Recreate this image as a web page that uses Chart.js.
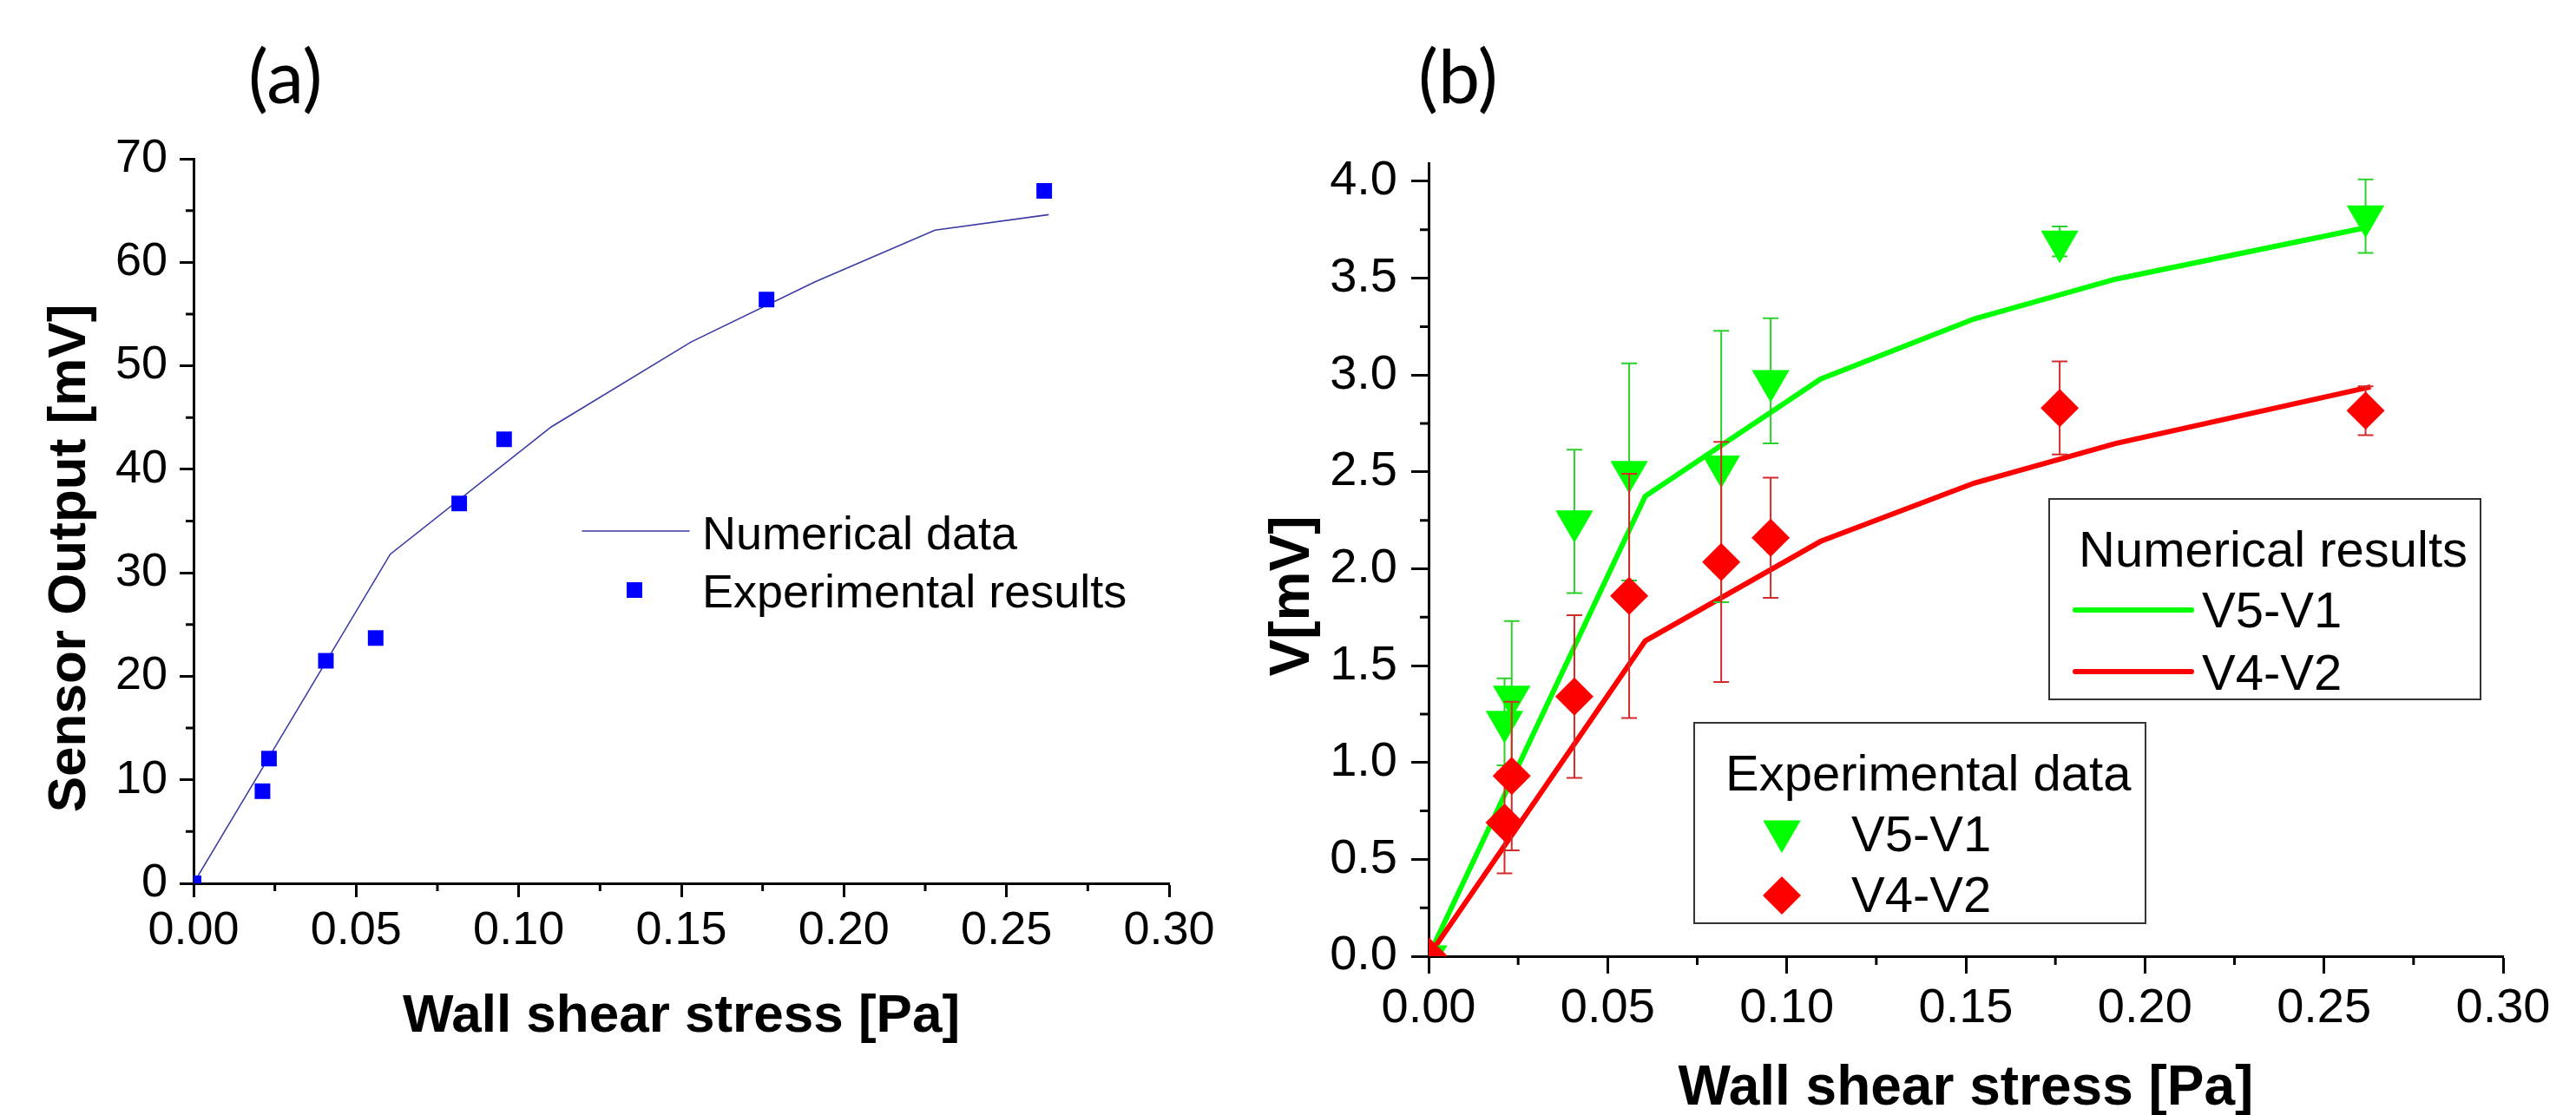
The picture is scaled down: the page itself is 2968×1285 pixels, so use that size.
<!DOCTYPE html>
<html>
<head>
<meta charset="utf-8">
<script src="https://cdn.jsdelivr.net/npm/chart.js@4.4.1/dist/chart.umd.min.js"></script>
<style>
html, body { margin: 0; padding: 0; background: #fff; }
body { width: 2968px; height: 1285px; position: relative; overflow: hidden; }
.panel { position: absolute; top: 0; height: 1285px; }
#panelA { left: 0; width: 1450px; }
#panelB { left: 1450px; width: 1518px; }
.tag { position: absolute; z-index: 2; font-family: Lato, "Open Sans", sans-serif; font-size: 86px; line-height: 1; color: #000; }
</style>
</head>
<body>
<div class="panel" id="panelA"><canvas id="chartA"></canvas></div>
<div class="panel" id="panelB"><canvas id="chartB"></canvas></div>
<div class="tag" style="left:286px; top:43px;">(a)</div>
<div class="tag" style="left:1634px; top:43px;">(b)</div>
<script>
// wall shear stress of the measured points [Pa]
var shearExp = [0, 0.0212, 0.0232, 0.0407, 0.0560, 0.0817, 0.0955, 0.1762, 0.2616];

// (a) sensor output [mV]
var sensorExp = [0, 8.9, 12.05, 21.5, 23.7, 36.7, 42.9, 56.4, 66.9];
var shearNumA = [0, 0.0605, 0.110, 0.153, 0.191, 0.228, 0.263];
var sensorNum = [0, 31.8, 44.1, 52.3, 58.1, 63.1, 64.6];

// (b) voltage differences [mV]
var shearNumB = [0, 0.0605, 0.1095, 0.1523, 0.1918, 0.263];
var v51Num = [0, 2.375, 2.98, 3.29, 3.495, 3.766];
var v42Num = [0, 1.628, 2.142, 2.442, 2.647, 2.939];
var v51Exp = [0, 1.21, 1.34, 2.245, 2.50, 2.528, 2.97, 3.69, 3.82];
var v51Err = [0, 0.225, 0.39, 0.37, 0.56, 0.70, 0.323, 0.077, 0.19];
var v42Exp = [0, 0.69, 0.93, 1.34, 1.86, 2.035, 2.16, 2.83, 2.816];
var v42Err = [0, 0.262, 0.384, 0.42, 0.63, 0.62, 0.31, 0.24, 0.126];

var xTicks = [0, 0.05, 0.10, 0.15, 0.20, 0.25, 0.30];
var yTicksA = [0, 10, 20, 30, 40, 50, 60, 70];
var yTicksB = [0, 0.5, 1.0, 1.5, 2.0, 2.5, 3.0, 3.5, 4.0];

var sans = '"Liberation Sans", Arial, sans-serif';
Chart.defaults.font.family = sans;
Chart.defaults.color = '#000';

function pts(xs, ys) {
	return xs.map(function(x, i) { return {x: x, y: ys[i]}; });
}

function setTicks(list) {
	return function(scale) {
		scale.ticks = list.map(function(v) { return {value: v}; });
	};
}

// small ticks half way between the labelled ones
var minorTicks = {
	id: 'minorTicks',
	afterDraw: function(chart, args, opts) {
		var ctx = chart.ctx, area = chart.chartArea;
		var xs = chart.scales.x, ys = chart.scales.y;
		ctx.save();
		ctx.strokeStyle = '#000';
		ctx.lineWidth = 3;
		ctx.beginPath();
		var xt = xs.ticks, yt = ys.ticks;
		for (var i = 0; i < xt.length - 1; i++) {
			var px = xs.getPixelForValue((xt[i].value + xt[i + 1].value) / 2);
			ctx.moveTo(px, area.bottom);
			ctx.lineTo(px, area.bottom + opts.length);
		}
		for (var j = 0; j < yt.length - 1; j++) {
			var py = ys.getPixelForValue((yt[j].value + yt[j + 1].value) / 2);
			ctx.moveTo(area.left, py);
			ctx.lineTo(area.left - opts.length, py);
		}
		ctx.stroke();
		ctx.restore();
	}
};

// rotated y title, set a little below the middle of the axis like the original
var sideTitle = {
	id: 'sideTitle',
	afterDraw: function(chart, args, opts) {
		var ctx = chart.ctx, area = chart.chartArea;
		ctx.save();
		ctx.translate(opts.x, (area.top + area.bottom) / 2 + opts.shift);
		ctx.rotate(-Math.PI / 2);
		ctx.font = 'bold ' + opts.size + 'px ' + sans;
		ctx.fillStyle = '#000';
		ctx.textAlign = 'center';
		ctx.textBaseline = 'middle';
		ctx.fillText(opts.text, 0, 0);
		ctx.restore();
	}
};

// vertical error bars with caps, drawn just before their markers
var errorBars = {
	id: 'errorBars',
	beforeDatasetDraw: function(chart, args) {
		var ds = chart.data.datasets[args.index];
		if (!ds.errors) return;
		var ctx = chart.ctx, xs = chart.scales.x, ys = chart.scales.y;
		ctx.save();
		ctx.strokeStyle = ds.errorColor;
		ctx.lineWidth = 2;
		ctx.beginPath();
		ds.data.forEach(function(p, i) {
			var e = ds.errors[i];
			if (!e) return;
			var px = xs.getPixelForValue(p.x);
			var top = ys.getPixelForValue(p.y + e);
			var bot = ys.getPixelForValue(p.y - e);
			ctx.moveTo(px, top); ctx.lineTo(px, bot);
			ctx.moveTo(px - 9, top); ctx.lineTo(px + 9, top);
			ctx.moveTo(px - 9, bot); ctx.lineTo(px + 9, bot);
		});
		ctx.stroke();
		ctx.restore();
	}
};

// Origin style legends placed inside the plot
var panelLegend = {
	id: 'panelLegend',
	afterDraw: function(chart, args, opts) {
		var ctx = chart.ctx;
		opts.boxes.forEach(function(b) {
			ctx.save();
			if (b.frame) {
				ctx.strokeStyle = '#333';
				ctx.lineWidth = 2;
				ctx.strokeRect(b.frame[0], b.frame[1], b.frame[2], b.frame[3]);
			}
			ctx.font = opts.fontSize + 'px ' + sans;
			ctx.fillStyle = '#000';
			ctx.textAlign = 'left';
			ctx.textBaseline = 'alphabetic';
			if (b.title) ctx.fillText(b.title, b.titleAt[0], b.titleAt[1]);
			b.items.forEach(function(it) {
				var ds = chart.data.datasets[it.dataset];
				if (ds.showLine) {
					ctx.strokeStyle = ds.borderColor;
					ctx.lineWidth = ds.borderWidth;
					ctx.lineCap = 'round';
					ctx.beginPath();
					ctx.moveTo(it.line[0], it.line[2]);
					ctx.lineTo(it.line[1], it.line[2]);
					ctx.stroke();
				} else {
					ctx.fillStyle = ds.pointBackgroundColor;
					Chart.helpers.drawPoint(ctx, {
						pointStyle: ds.pointStyle, rotation: ds.pointRotation || 0,
						radius: ds.pointRadius, borderWidth: 0
					}, it.marker[0], it.marker[1]);
				}
				ctx.fillStyle = '#000';
				ctx.fillText(ds.label, it.text[0], it.text[1]);
			});
			ctx.restore();
		});
	}
};

function axisStyle(tickLen, fontSize, pad) {
	return {
		grid: {drawOnChartArea: false, drawTicks: true, tickLength: tickLen, tickWidth: 3, tickColor: '#000'},
		border: {display: true, color: '#000', width: 3},
		ticks: {font: {size: fontSize}, color: '#000', padding: pad, maxRotation: 0, autoSkip: false}
	};
}

// ---------- panel (a)
var ax = axisStyle(16, 54, 7);
ax.type = 'linear'; ax.min = 0; ax.max = 0.30;
ax.afterBuildTicks = setTicks(xTicks);
ax.afterFit = function(s) { s.height = 267; };
ax.ticks.callback = function(v) { return v.toFixed(2); };
ax.title = {display: true, text: 'Wall shear stress [Pa]', color: '#000',
	font: {size: 62, weight: 'bold', lineHeight: 1}, padding: {top: 0, bottom: 82}};

var ay = axisStyle(16, 54, 14);
ay.type = 'linear'; ay.min = 0; ay.max = 70;
ay.afterBuildTicks = setTicks(yTicksA);
ay.afterFit = function(s) { s.width = 223; };
ay.ticks.callback = function(v) { return String(v); };

new Chart(document.getElementById('chartA'), {
	type: 'scatter',
	data: {
		datasets: [{
			label: 'Experimental results',
			data: pts(shearExp, sensorExp),
			pointStyle: 'rect', pointRadius: 12.7,
			pointBackgroundColor: '#0000ff', pointBorderColor: '#0000ff', pointBorderWidth: 0,
			showLine: false, clip: 0
		}, {
			label: 'Numerical data',
			data: pts(shearNumA, sensorNum),
			showLine: true, borderColor: '#3a3aa6', borderWidth: 1.6,
			pointRadius: 0, clip: 0
		}]
	},
	options: {
		responsive: true, maintainAspectRatio: false, animation: false, devicePixelRatio: 1,
		layout: {padding: {left: 0, right: 103, top: 183, bottom: 0}},
		scales: {x: ax, y: ay},
		plugins: {
			legend: {display: false},
			tooltip: {enabled: false},
			minorTicks: {length: 9},
			sideTitle: {text: 'Sensor Output [mV]', size: 62, x: 81, shift: 43},
			panelLegend: {
				fontSize: 54,
				boxes: [{
					items: [
						{dataset: 1, line: [671, 794, 612], text: [809, 633]},
						{dataset: 0, marker: [731, 680], text: [809, 700]}
					]
				}]
			}
		}
	},
	plugins: [minorTicks, errorBars, sideTitle, panelLegend]
});

// ---------- panel (b)
var bx = axisStyle(20, 56, 7);
bx.type = 'linear'; bx.min = 0; bx.max = 0.30;
bx.afterBuildTicks = setTicks(xTicks);
bx.afterFit = function(s) { s.height = 183; };
bx.ticks.callback = function(v) { return v.toFixed(2); };
bx.title = {display: true, text: 'Wall shear stress [Pa]', color: '#000',
	font: {size: 64, weight: 'bold', lineHeight: 1}, padding: {top: 0, bottom: -2}};

var by = axisStyle(20, 56, 16);
by.type = 'linear'; by.min = 0; by.max = 4.094;
by.afterBuildTicks = setTicks(yTicksB);
by.afterFit = function(s) { s.width = 196; };
by.ticks.callback = function(v) { return v.toFixed(1); };

new Chart(document.getElementById('chartB'), {
	type: 'scatter',
	data: {
		datasets: [{
			label: 'V4-V2',
			data: pts(shearExp, v42Exp),
			errors: v42Err, errorColor: '#d42a2a',
			pointStyle: 'rectRot', pointRadius: 22,
			pointBackgroundColor: '#ff0000', pointBorderColor: '#ff0000', pointBorderWidth: 0,
			showLine: false, clip: 0
		}, {
			label: 'V5-V1',
			data: pts(shearExp, v51Exp),
			errors: v51Err, errorColor: '#2bd12b',
			pointStyle: 'triangle', pointRotation: 180, pointRadius: 25,
			pointBackgroundColor: '#00ff00', pointBorderColor: '#00ff00', pointBorderWidth: 0,
			showLine: false, clip: 0
		}, {
			label: 'V4-V2',
			data: pts(shearNumB, v42Num),
			showLine: true, borderColor: '#ff0000', borderWidth: 6,
			pointRadius: 0, clip: 0
		}, {
			label: 'V5-V1',
			data: pts(shearNumB, v51Num),
			showLine: true, borderColor: '#00ff00', borderWidth: 6,
			pointRadius: 0, clip: 0
		}]
	},
	options: {
		responsive: true, maintainAspectRatio: false, animation: false, devicePixelRatio: 1,
		layout: {padding: {left: 0, right: 84, top: 188, bottom: 0}},
		scales: {x: bx, y: by},
		plugins: {
			legend: {display: false},
			tooltip: {enabled: false},
			minorTicks: {length: 10},
			sideTitle: {text: 'V[mV]', size: 64, x: 40, shift: 42},
			panelLegend: {
				fontSize: 58,
				boxes: [{
					frame: [911, 575, 497, 231],
					title: 'Numerical results', titleAt: [945, 653],
					items: [
						{dataset: 3, line: [941, 1075, 703], text: [1087, 723]},
						{dataset: 2, line: [941, 1075, 774], text: [1087, 795]}
					]
				}, {
					frame: [502, 833, 520, 231],
					title: 'Experimental data', titleAt: [538, 911],
					items: [
						{dataset: 1, marker: [603, 958], text: [683, 981]},
						{dataset: 0, marker: [603, 1032], text: [683, 1051]}
					]
				}]
			}
		}
	},
	plugins: [minorTicks, errorBars, sideTitle, panelLegend]
});
</script>
</body>
</html>
